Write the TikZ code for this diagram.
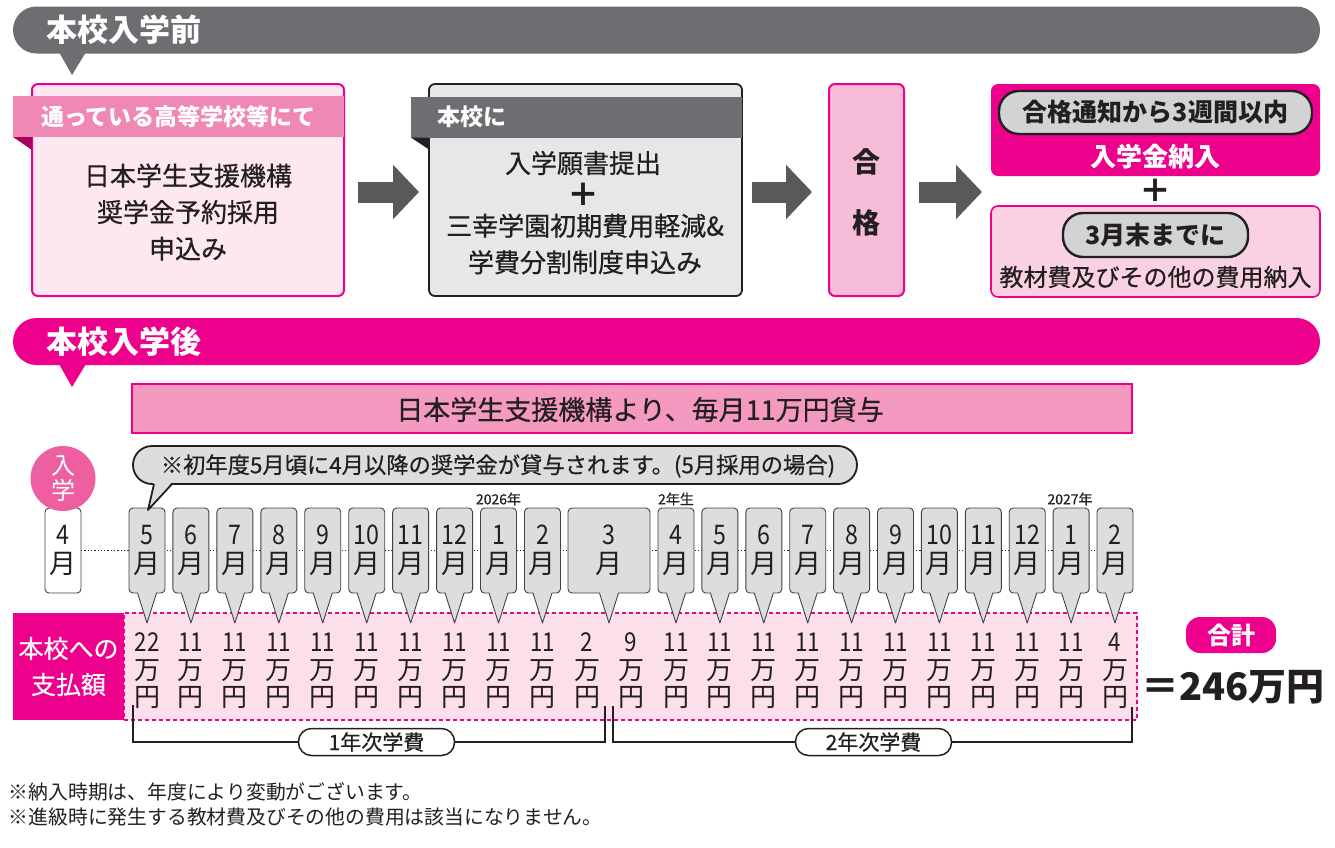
\documentclass[tikz,border=0pt]{standalone}
\usepackage{fontspec}
\usepackage{graphicx}
\setmainfont{Noto Sans CJK JP}
\newfontfamily\medfont{Noto Sans CJK JP}[FakeBold=0.6]
\usetikzlibrary{arrows.meta,calc,backgrounds}
\definecolor{txt}{HTML}{231F20}
\definecolor{bannergray}{HTML}{6D6E71}
\definecolor{mag}{HTML}{EC008C}
\definecolor{hdrpink}{HTML}{F088B5}
\definecolor{folddark}{HTML}{A8005F}
\definecolor{boxAfill}{HTML}{FDE8F1}
\definecolor{boxBfill}{HTML}{E6E7E8}
\definecolor{boxCfill}{HTML}{F7BCD7}
\definecolor{boxDfill}{HTML}{FAD1E3}
\definecolor{pillgray}{HTML}{D1D3D4}
\definecolor{barpink}{HTML}{F49AC1}
\definecolor{circpink}{HTML}{EE5FA1}
\definecolor{bandfill}{HTML}{FCDFEB}
\definecolor{monthgray}{HTML}{DCDDDE}
\definecolor{arrowgray}{HTML}{58595B}
\newcommand\mn[1]{\scalebox{0.86}[1]{#1}}
\newcommand\myfs[2]{\fontsize{#1}{#2}\selectfont}
\begin{document}
\begin{tikzpicture}[x=1pt,y=-1pt,
 every node/.style={outer sep=0pt,inner sep=0pt},
 banner/.style={rounded corners=23.5pt,minimum width=1307pt,minimum height=47pt},
 bantext/.style={anchor=west,text=white,font=\bfseries\myfs{31}{33}},
 hdr/.style={minimum width=331pt,minimum height=41pt,text=white,font=\bfseries\myfs{23}{25}},
 body/.style={align=center,text=txt,font=\medfont\myfs{26}{36.5}},
 bigarrow/.style={line width=21pt,arrowgray,-{Triangle[length=26pt,width=53pt]}},
 pill/.style={draw=txt,line width=2.4pt,fill=pillgray,rounded corners=20pt,text=txt,font=\bfseries\myfs{25}{27}},
 mbox/.style={draw=txt!85,line width=0.9pt,fill=monthgray,rounded corners=4pt,minimum width=36pt,minimum height=85pt,align=center,text=txt,font=\myfs{27}{29.5}},
 amt/.style={align=center,text=txt,font=\myfs{26}{27.5}},
 yr/.style={text=txt,font=\medfont\myfs{14}{16}},
 brline/.style={draw=txt,line width=1.5pt},
 brpill/.style={draw=txt,line width=1.5pt,fill=white,rounded corners=13pt,minimum width=156pt,minimum height=27pt,text=txt,font=\medfont\myfs{21}{23}},
 note/.style={anchor=west,text=txt,font=\myfs{19.8}{21}},
]
\useasboundingbox (0,0) rectangle (1335,847);

% ---------- Section A ----------
\node[banner,fill=bannergray] (banA) at (666.5,30) {};
\fill[bannergray] (59,52) -- (72,75) -- (86,52) -- cycle;
\node[bantext] (banAt) at (46,30) {本校入学前};

% Box A
\node[draw=mag,line width=2pt,fill=boxAfill,rounded corners=6pt,minimum width=312pt,minimum height=212pt] (boxA) at (188,190) {};
\node[hdr,fill=hdrpink] (hdrA) at (178.5,116.5) {通っている高等学校等にて};
\fill[folddark] (hdrA.south west) -- (hdrA.south west -| boxA.west) -- ++(0,13) -- cycle;
\node[body] (bodyA) at (188,212) {日本学生支援機構\\奨学金予約採用\\申込み};

% Box B
\node[draw=txt,line width=1.8pt,fill=boxBfill,rounded corners=6pt,minimum width=313pt,minimum height=212pt] (boxB) at (585.5,190) {};
\node[hdr,fill=bannergray] (hdrB) at (576.5,117) {};
\node[anchor=west,text=white,font=\bfseries\myfs{23}{25}] (hdrBt) at (437,117) {本校に};
\fill[txt] (hdrB.south west) -- (hdrB.south west -| boxB.west) -- ++(0,12) -- cycle;
\node[body] (bodyB1) at (583,163) {入学願書提出};
\node[text=txt,font=\bfseries\myfs{32}{32}] (plusB) at (583,195) {＋};
\node[body] (bodyB2) at (585,244) {三幸学園初期費用軽減\&\\学費分割制度申込み};

\draw[bigarrow] ($(boxA.east)+(14,2)$) -- ($(boxB.west)+(-10,2)$);

% Box C
\node[draw=mag,line width=2pt,fill=boxCfill,rounded corners=6pt,minimum width=75pt,minimum height=212pt] (boxC) at (866.5,190) {};
\node[text=txt,font=\bfseries\myfs{28}{30}] (goA) at (866.5,162) {合};
\node[text=txt,font=\bfseries\myfs{28}{30}] (goB) at (866.5,223) {格};
\draw[bigarrow] ($(boxB.east)+(10,2)$) -- ($(boxC.west)+(-17,2)$);

% Box D / E
\node[fill=mag,rounded corners=7pt,minimum width=329pt,minimum height=92pt] (boxD) at (1155.5,130) {};
\node[pill,minimum width=313pt,minimum height=43pt] (pillD) at (1155.5,112.5) {合格通知から3週間以内};
\node[text=white,font=\bfseries\myfs{26}{28}] (entD) at (1155.5,157) {入学金納入};
\node[text=txt,font=\bfseries\myfs{32}{32}] (plusD) at (1155.5,191) {＋};
\node[draw=mag,line width=1.6pt,fill=boxDfill,rounded corners=7pt,minimum width=329pt,minimum height=91pt] (boxE) at (1155.5,251.5) {};
\node[pill,minimum width=185pt,minimum height=44pt] (pillE) at (1155.5,235) {3月末までに};
\node[text=txt,font=\medfont\myfs{24}{26}] (matE) at (1155.5,277) {教材費及びその他の費用納入};
\draw[bigarrow] ($(boxC.east)+(15,2)$) -- ($(boxD.south west)!0.5!(boxE.north west)+(-9,1)$);

% ---------- Section B ----------
\node[banner,fill=mag] (banB) at (666.5,341.5) {};
\fill[mag] (59,364) -- (72,387) -- (86,364) -- cycle;
\node[bantext] (banBt) at (46,342) {本校入学後};

\node[draw=mag,line width=2pt,fill=barpink,minimum width=1000pt,minimum height=49pt] (bar) at (632,408.5) {};
\node[text=txt,font=\medfont\myfs{27}{29}] (bart) at (640,409.5) {日本学生支援機構より、毎月11万円貸与};

% payment band
\node[draw=mag,dash pattern=on 4pt off 3pt,line width=1.3pt,fill=bandfill,minimum width=1013pt,minimum height=107pt] (band) at (630.5,666.5) {};
\node[fill=mag,minimum width=111pt,minimum height=107pt,align=center,text=white,font=\medfont\myfs{25}{36}] (lbl) at (68.5,666.5) {本校への\\支払額};

% months
\node[mbox,fill=white] (m0) at (63,550.5) {\mn{4}\\月};
\foreach \lab [count=\i] in {5,6,7,8,9,10,11,12,1,2}{
  \pgfmathsetmacro{\cx}{147+43.94*(\i-1)}
  \node[mbox] (m\i) at (\cx,550.5) {\mn{\lab}\\月};
}
\node[mbox,minimum width=82pt] (m11) at (609,550.5) {\mn{3}\\月};
\foreach \lab [count=\j from 12] in {4,5,6,7,8,9,10,11,12,1,2}{
  \pgfmathsetmacro{\cx}{676+43.9*(\j-12)}
  \node[mbox] (m\j) at (\cx,550.5) {\mn{\lab}\\月};
}
\foreach \i in {1,...,22}{
  \fill[monthgray] ($(m\i.south)+(-9.5,-1.5)$) -- ($(m\i.south)+(0,30)$) -- ($(m\i.south)+(9.5,-1.5)$) -- cycle;
  \draw[txt!85,line width=0.9pt,line join=round] ($(m\i.south)+(-9.5,0)$) -- ($(m\i.south)+(0,30)$) -- ($(m\i.south)+(9.5,0)$);
}
\begin{pgfonlayer}{background}
\draw[txt,line width=1.3pt,dash pattern=on 1.3pt off 2pt] (m0.east) -- (m22.west);
\end{pgfonlayer}

\node[yr] (y1) at (498.5,499) {2026年};
\node[yr] (y2) at (676,499) {2年生};
\node[yr] (y3) at (1070,499) {2027年};

% bubble
\node[draw=txt,line width=1.8pt,fill=monthgray,rounded corners=19pt,minimum width=724pt,minimum height=38pt] (bub) at (495,465) {};
\node[text=txt,font=\medfont\myfs{22.3}{24}] (bubt) at (498,466) {※初年度5月頃に4月以降の奨学金が貸与されます。(5月採用の場合)};
\fill[monthgray] ($(bub.south west)+(21,-2)$) -- ($(m1.north)+(1,2)$) -- ($(bub.south west)+(39,-2)$) -- cycle;
\draw[txt,line width=1.8pt,line join=round] ($(bub.south west)+(21,0)$) -- ($(m1.north)+(1,2)$) -- ($(bub.south west)+(39,0)$);

% entrance circle
\node[circle,fill=circpink,minimum size=65pt,align=center,text=white,font=\myfs{24}{25}] (nyu) at (63,478.5) {入\\学};

% amounts
\foreach \amt/\cx [count=\k] in {22/147, 11/190.9, 11/234.9, 11/278.8, 11/322.8, 11/366.7, 11/410.6, 11/454.6, 11/498.5, 11/542.5, 2/587, 9/631, 11/676, 11/719.9, 11/763.8, 11/807.7, 11/851.6, 11/895.5, 11/939.4, 11/983.3, 11/1027.2, 11/1071.1, 4/1115}{
  \node[amt] (a\k) at (\cx,671) {\mn{\amt}\\万\\円};
}

% brackets
\coordinate (b1l) at (133,705);
\coordinate (b1r) at (605,706);
\coordinate (b2l) at (613,706);
\coordinate (b2r) at (1132,707);
\node[brpill] (p1) at (376.5,742) {1年次学費};
\node[brpill] (p2) at (873.5,742) {2年次学費};
\draw[brline] (p1.west) -| (b1l);
\draw[brline] (p1.east) -| (b1r);
\draw[brline] (p2.west) -| (b2l);
\draw[brline] (p2.east) -| (b2r);

% total
\node[fill=mag,rounded corners=14pt,minimum width=90pt,minimum height=36pt,text=white,font=\bfseries\myfs{24}{26}] (gokei) at (1231,635) {合計};
\node[text=txt,font=\bfseries\myfs{38}{40}] (total) at (1233,687) {＝246万円};

% notes
\node[note] (n1) at (9,792) {※納入時期は、年度により変動がございます。};
\node[note] (n2) at (9,817) {※進級時に発生する教材費及びその他の費用は該当になりません。};
\end{tikzpicture}
\end{document}
